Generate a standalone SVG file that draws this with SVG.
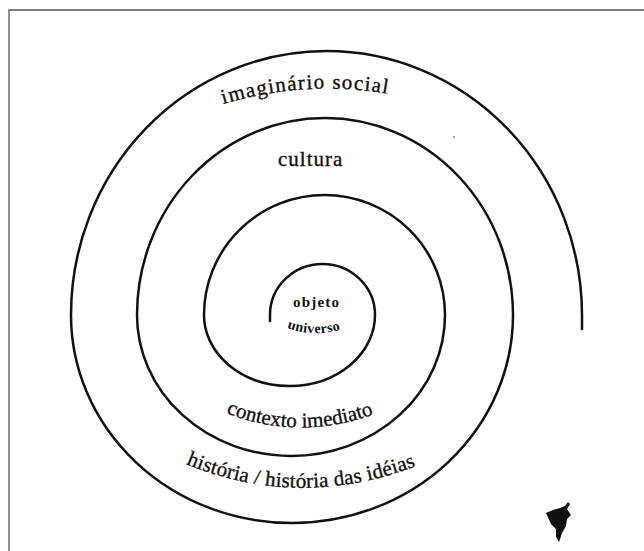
<svg xmlns="http://www.w3.org/2000/svg" width="644" height="551" viewBox="0 0 644 551">
  <style>
    .ring { fill: none; stroke: #111; stroke-width: 2.5; stroke-linecap: round; stroke-linejoin: round; }
    .frame { fill: none; stroke: #555; stroke-width: 1.3; }
    .lbl { font-size: 21px; fill: #111; stroke: #111; stroke-width: 0.35; }
    .small { font-weight: bold; fill: #111; }
  </style>
  <defs>
    <path id="p-imag" d="M 223 104 Q 312 78 400 96"/>
    <path id="p-ctx" d="M 226 413 Q 303 443 382 411"/>
    <path id="p-hist" d="M 186 464 Q 303 512 424 463"/>
    <path id="p-univ" d="M 287 328 Q 314 338 343 329"/>
  </defs>
  <rect width="644" height="551" fill="#ffffff"/>
  <path class="frame" d="M 9 551 L 9 10 L 644 10"/>

  <g id="connectors">
    <path id="spiral" class="ring" d="M 270 321 L 270 315 A 52.5 51 0 0 1 375 315 A 85.5 71 0 0 1 204 315 A 120.5 120 0 0 1 445 315 A 154 141 0 0 1 137 315 A 188 197 0 0 1 513 315 A 221 208 0 0 1 71 315 A 255.5 264 0 0 1 582 315 L 582 329"/>
  </g>

  <g font-family="'Liberation Serif', 'Times New Roman', serif">
    <g id="imaginario-social">
      <text class="lbl" letter-spacing="1.3"><textPath href="#p-imag">imaginário social</textPath></text>
    </g>
    <g id="cultura">
      <text class="lbl" x="278" y="166" letter-spacing="1">cultura</text>
    </g>
    <g id="objeto-universo">
      <text class="small" x="293" y="307" font-size="15" letter-spacing="1.2">objeto</text>
      <text class="small" font-size="14" letter-spacing="0.4"><textPath href="#p-univ">universo</textPath></text>
    </g>
    <g id="contexto-imediato">
      <text class="lbl"><textPath href="#p-ctx">contexto imediato</textPath></text>
    </g>
    <g id="historia">
      <text class="lbl" letter-spacing="0.2"><textPath href="#p-hist">história / história das idéias</textPath></text>
    </g>
  </g>

  <g id="blot">
    <path d="M 546 513 L 553 510 L 560 508 L 565 506 L 568 502 L 570 504 L 567 509 L 571 515 L 567 519 L 566 526 L 562 533 L 559 542 L 556 537 L 556 529 L 551 524 Z" fill="#111"/>
    <circle cx="454" cy="137" r="0.9" fill="#777"/>
  </g>
</svg>
